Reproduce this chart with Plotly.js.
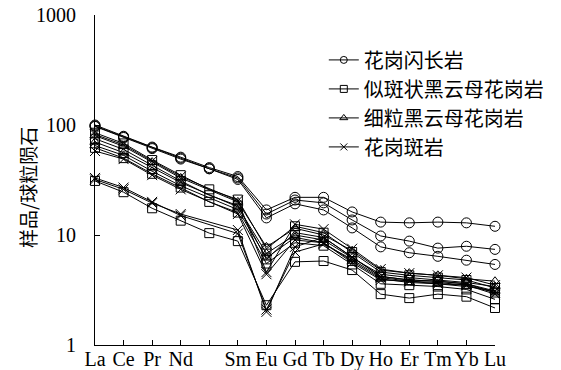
<!DOCTYPE html>
<html>
<head>
<meta charset="utf-8">
<script src="https://cdn.plot.ly/plotly-3.0.1.min.js"></script>
<style>html,body{margin:0;padding:0;background:#fff;}#chart{width:561px;height:370px;}</style>
</head>
<body>
<div id="chart"></div>
<script>
// REE elements (Pm position carries no label)
const elements = ['La','Ce','Pr','Nd','Pm','Sm','Eu','Gd','Tb','Dy','Ho','Er','Tm','Yb','Lu'];
const tickLabels = ['La','Ce','Pr','Nd','','Sm','Eu','Gd','Tb','Dy','Ho','Er','Tm','Yb','Lu'];
const yTickVals = [1, 10, 100, 1000];
const yTickText = ['1', '10', '100', '1000'];

const legendNames = ['花岗闪长岩', '似斑状黑云母花岗岩', '细粒黑云母花岗岩', '花岗斑岩'];
const yTitle = '样品/球粒陨石';

// 花岗闪长岩 (circles)
const granodiorite1 = [100, 79, 63, 51, 41, 34, 16.9, 22, 22, 16.2, 13.1, 12.9, 13.1, 12.9, 12.0];
const granodiorite2 = [98, 78, 62, 50, 40, 33, 15.5, 20.8, 19.6, 13.7, 9.8, 8.8, 7.6, 7.9, 7.4];
const granodiorite3 = [97, 77, 61, 49, 40, 32, 14.3, 19.2, 16.9, 11.6, 7.8, 6.9, 6.4, 5.9, 5.4];

// 似斑状黑云母花岗岩 (squares)
const porphyritic1 = [85, 68, 48, 35, 26, 21, 7.5, 12, 10.5, 7.0, 4.6, 4.3, 4.1, 3.9, 3.3];
const porphyritic2 = [75, 60, 43, 31, 23, 18.5, 6.0, 10.5, 9.5, 6.3, 4.2, 3.9, 3.8, 3.6, 3.0];
const porphyritic3 = [62, 50, 36, 27, 20, 16, 5.5, 8.5, 8.0, 5.4, 3.6, 3.5, 3.4, 3.2, 2.6];
const porphyritic4 = [31, 24.5, 17.5, 13.5, 10.4, 8.8, 2.3, 5.7, 5.8, 4.8, 2.9, 2.67, 2.9, 2.75, 2.17];

// 细粒黑云母花岗岩 (triangles)
const fineGrained1 = [80, 64, 46, 33, null, 20, 7.8, 11.5, 10.0, 7.2, 4.8, 4.5, 4.3, 4.0, 3.8];
const fineGrained2 = [70, 56, 41, 30, null, 18, 6.8, 10.0, 9.0, 6.2, 4.4, 4.1, 3.9, 3.7, 3.4];
const fineGrained3 = [65, 53, 38, 28, null, 17, 6.2, 9.5, 8.5, 5.8, 4.0, 3.7, 3.6, 3.4, 3.1];

// 花岗斑岩 (x)
const porphyry1 = [82, 66, 47, 34, null, 20.5, 4.6, 12.5, 11.3, 7.5, 4.9, 4.5, 4.3, 4.1, 3.5];
const porphyry2 = [58, 49, 35, 26, null, 15.5, 4.4, 9.0, 8.5, 5.6, 3.9, 3.8, 3.6, 3.5, 2.9];
const porphyry3 = [32, 26, 19.5, 15.5, null, 11.1, 2.0, 7.8, 9.5, 6.3, 4.2, 3.9, 3.8, 3.6, 3.1];
const porphyry4 = [33, 27, 20, 15, null, 10.3, 2.1, 7.0, 8.3, 6.0, 4.1, 3.8, 3.7, 3.5, 3.0];

const groups = [
  {series: [granodiorite1, granodiorite2, granodiorite3], symbol: 'circle-open', size: 10},
  {series: [porphyritic1, porphyritic2, porphyritic3, porphyritic4], symbol: 'square-open', size: 9},
  {series: [fineGrained1, fineGrained2, fineGrained3], symbol: 'triangle-up-open', size: 9},
  {series: [porphyry1, porphyry2, porphyry3, porphyry4], symbol: 'x-thin-open', size: 10}
];

const traces = [];
groups.forEach(g => {
  g.series.forEach(s => {
    traces.push({
      x: elements, y: s, type: 'scatter', mode: 'lines+markers',
      connectgaps: true, cliponaxis: false, showlegend: false,
      line: {color: '#000', width: 1},
      marker: {symbol: g.symbol, size: g.size, color: '#000', line: {color: '#000', width: 1}}
    });
  });
});
groups.forEach((g, i) => {
  traces.push({
    x: [null], y: [null], type: 'scatter', mode: 'lines+markers',
    name: legendNames[i], showlegend: true,
    line: {color: '#000', width: 1},
    marker: {symbol: g.symbol, size: 7, color: '#000', line: {color: '#000', width: 1}}
  });
});

const serif = 'Liberation Serif, Times New Roman, serif';
const cjk = 'Noto Sans CJK SC, sans-serif';

const layout = {
  width: 561, height: 370,
  margin: {l: 95, r: 39, t: 15, b: 25},
  paper_bgcolor: '#fff', plot_bgcolor: '#fff',
  showlegend: true,
  legend: {x: 0.572, y: 0.923, xanchor: 'left', yanchor: 'top',
           font: {family: cjk, size: 20, color: '#000'}, bgcolor: 'rgba(0,0,0,0)', itemwidth: 30},
  xaxis: {type: 'category', range: [0, 14], tickvals: elements, ticktext: tickLabels,
          showline: true, linecolor: '#000', linewidth: 1, ticks: 'inside', ticklen: 5,
          tickcolor: '#000', showgrid: false, zeroline: false, ticklabelstandoff: -4,
          tickfont: {family: serif, size: 20, color: '#000'}},
  yaxis: {type: 'log', range: [0, 3], tickvals: yTickVals, ticktext: yTickText,
          showline: true, linecolor: '#000', linewidth: 1, ticks: 'inside', ticklen: 5,
          tickcolor: '#000', showgrid: false, zeroline: false, ticklabelstandoff: 14,
          tickfont: {family: serif, size: 20, color: '#000'}},
  annotations: [{text: yTitle, xref: 'paper', yref: 'paper', x: -0.167, y: 0.476,
                 xanchor: 'center', yanchor: 'middle', textangle: -90, showarrow: false,
                 font: {family: cjk, size: 19, color: '#000'}}]
};

Plotly.newPlot('chart', traces, layout, {displayModeBar: false, staticPlot: true});
</script>
</body>
</html>
